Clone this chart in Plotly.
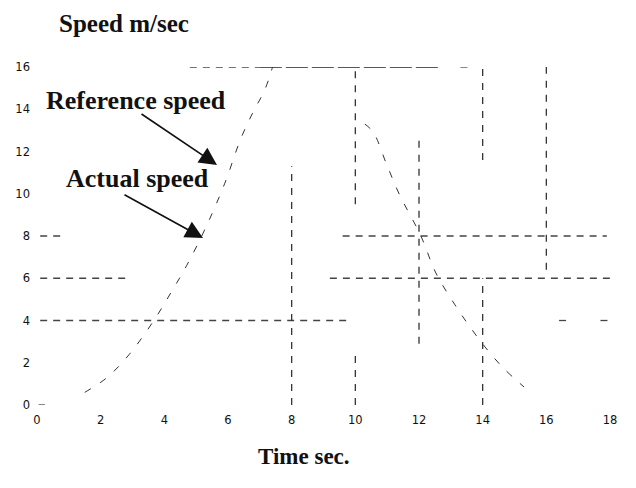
import plotly.graph_objects as go

# Rising curve (actual speed)
rise_t = [1.5, 2.2, 2.9, 3.67, 4.2, 4.7, 5.3, 5.9, 6.4, 6.8, 7.15, 7.4]
rise_v = [0.6, 1.3, 2.4, 4.0, 5.3, 6.6, 8.4, 10.5, 12.6, 13.9, 14.9, 16.0]

# Falling curve
fall_t = [10.3, 10.57, 10.98, 11.39, 12.06, 12.53, 13.13, 13.6, 14.1, 14.65, 15.3]
fall_v = [13.3, 12.9, 11.4, 9.95, 8.0, 6.25, 4.74, 3.7, 2.7, 1.75, 0.85]

# Horizontal dashed segments: level, start, end
h_level = [16, 16, 16, 8, 8, 6, 6, 4, 4, 4, 0]
h_start = [4.8, 7.0, 13.3, 0.1, 9.6, 0.1, 9.2, 0.1, 16.4, 17.7, 0.05]
h_end = [7.0, 12.7, 13.6, 0.9, 17.9, 2.8, 18.0, 9.9, 16.7, 18.0, 0.25]
h_heavy = [False, True, False, False, False, False, False, False, False, False, False]

# Vertical dashed segments: position, bottom, top
v_pos = [8, 10, 10, 12, 14, 14, 16]
v_bottom = [0, 9.5, 0, 2.9, 11.6, 0, 6.4]
v_top = [11.3, 16, 2.5, 12.6, 16, 6.0, 16]

x_ticks = [0, 2, 4, 6, 8, 10, 12, 14, 16, 18]
y_ticks = [0, 2, 4, 6, 8, 10, 12, 14, 16]

fig = go.Figure()

for y, a, b, hv in zip(h_level, h_start, h_end, h_heavy):
    line = (dict(color="#222", width=1.6, dash="22px,4px") if hv
            else dict(color="#444", width=1.3, dash="7px,6px"))
    fig.add_trace(go.Scatter(x=[a, b], y=[y, y], mode="lines", line=line,
                             hoverinfo="skip", showlegend=False))
for x, a, b in zip(v_pos, v_bottom, v_top):
    fig.add_trace(go.Scatter(x=[x, x], y=[a, b], mode="lines",
                             line=dict(color="#333", width=1.3, dash="7px,7px"),
                             hoverinfo="skip", showlegend=False))

fig.add_trace(go.Scatter(x=rise_t, y=rise_v, mode="lines", line_shape="spline",
                         line=dict(color="#333", width=1, dash="7px,11px"),
                         showlegend=False))
fig.add_trace(go.Scatter(x=fall_t, y=fall_v, mode="lines", line_shape="spline",
                         line=dict(color="#333", width=1, dash="7px,11px"),
                         showlegend=False))

W, H = 636, 488
L, R, T, B = 37, 26, 67, 83
pw, ph = W - L - R, H - T - B

def px(xp):
    return (xp - L) / pw

def py(yp):
    return (H - B - yp) / ph

serif = "Liberation Serif, Times New Roman, serif"
anns = [
    dict(text="<b>Speed m/sec</b>", x=px(124), y=py(24), size=25),
    dict(text="<b>Time sec.</b>", x=px(304), y=py(456), size=23),
    dict(text="<b>Reference speed</b>", x=px(136), y=py(101), size=26),
    dict(text="<b>Actual speed</b>", x=px(137), y=py(178), size=26),
]
for a in anns:
    fig.add_annotation(xref="paper", yref="paper", showarrow=False,
                       xanchor="center", yanchor="middle",
                       font=dict(family=serif, color="#111", size=a["size"]),
                       text=a["text"], x=a["x"], y=a["y"])

arrows = [((140, 113), (217, 165)), ((123, 194), (203, 238))]
for (sx, sy), (ex, ey) in arrows:
    fig.add_annotation(xref="paper", yref="paper", x=px(ex), y=py(ey),
                       axref="pixel", ayref="pixel", ax=sx - ex, ay=sy - ey,
                       showarrow=True, arrowhead=2, arrowsize=2.2, arrowwidth=1.6,
                       arrowcolor="#111", text="")

tick_font = dict(family="DejaVu Sans, Arial", size=11.5, color="#111")
fig.update_layout(
    width=W, height=H,
    margin=dict(l=L, r=R, t=T, b=B, pad=0),
    paper_bgcolor="white", plot_bgcolor="white",
    xaxis=dict(range=[0, 18], tickvals=x_ticks, showgrid=False, zeroline=False,
               showline=False, ticks="", tickfont=tick_font, ticklabelstandoff=6,
               fixedrange=True),
    yaxis=dict(range=[0, 16], tickvals=y_ticks, showgrid=False, zeroline=False,
               showline=False, ticks="", tickfont=tick_font, ticklabelstandoff=6,
               fixedrange=True),
)

fig.write_html("out.html")
